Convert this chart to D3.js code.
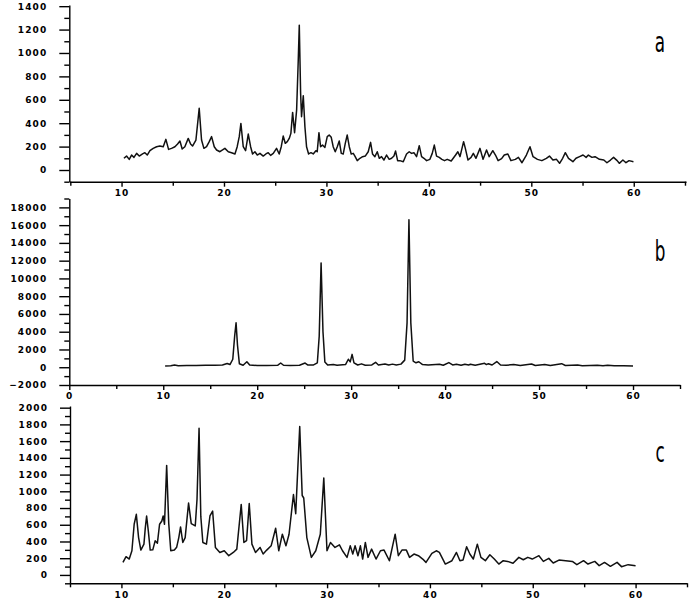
<!DOCTYPE html>
<html>
<head>
<meta charset="utf-8">
<script src="https://cdn.jsdelivr.net/npm/d3@7"></script>
<style>
  body { margin: 0; background: #fff; }
  .tick text { font-family: "DejaVu Sans"; font-weight: bold; font-size: 9px; letter-spacing: 1.1px; fill: #000; }
  .domain, .tick line { stroke: #000; stroke-width: 1.4; }
</style>
</head>
<body>
<div id="chart"></div>
<script>
// diffraction patterns, [2theta, intensity]
const xrdA = [
  [10.23,100],[10.49,119],[10.75,91],[10.98,128],[11.21,108],[11.47,142],[11.73,119],[12.05,137],
  [12.28,148],[12.51,128],[12.77,165],[13.09,185],[13.42,199],[13.74,205],[14.07,199],[14.33,262],
  [14.59,176],[14.88,185],[15.21,199],[15.47,222],[15.70,248],[15.92,179],[16.18,199],[16.51,270],
  [16.74,222],[16.93,205],[17.26,256],[17.58,527],[17.81,256],[18.04,185],[18.30,199],[18.56,242],
  [18.79,285],[19.05,199],[19.28,171],[19.60,156],[19.86,171],[20.09,185],[20.42,156],[20.74,148],
  [21.07,137],[21.29,199],[21.49,285],[21.65,398],[21.88,199],[22.11,165],[22.37,307],[22.60,199],
  [22.79,137],[23.02,156],[23.25,128],[23.51,142],[23.83,119],[24.09,137],[24.32,148],[24.55,125],
  [24.81,142],[25.13,185],[25.39,137],[25.59,199],[25.78,290],[25.98,228],[26.18,242],[26.37,270],
  [26.53,313],[26.70,492],[26.89,319],[27.09,512],[27.25,939],[27.35,1238],[27.48,655],[27.57,455],
  [27.74,635],[27.90,370],[28.06,199],[28.26,137],[28.49,148],[28.71,137],[28.97,165],[29.10,156],
  [29.27,319],[29.43,199],[29.62,213],[29.85,193],[30.08,285],[30.27,299],[30.47,279],[30.66,199],
  [30.86,156],[31.06,199],[31.25,248],[31.45,142],[31.64,137],[31.84,228],[32.03,299],[32.23,199],
  [32.42,137],[32.62,142],[32.78,119],[33.01,80],[33.27,100],[33.53,114],[33.79,119],[34.08,156],
  [34.31,236],[34.50,137],[34.73,114],[34.96,156],[35.16,100],[35.38,114],[35.61,85],[35.87,128],
  [36.13,91],[36.36,100],[36.59,119],[36.75,162],[36.95,80],[37.17,80],[37.50,71],[37.82,137],
  [38.08,156],[38.31,142],[38.54,148],[38.80,114],[39.06,208],[39.29,114],[39.52,100],[39.78,80],
  [40.10,91],[40.33,142],[40.53,213],[40.75,119],[41.01,108],[41.27,91],[41.53,80],[41.79,91],
  [42.18,77],[42.61,128],[42.83,156],[43.04,114],[43.39,242],[43.56,185],[43.82,85],[44.12,108],
  [44.34,142],[44.60,100],[44.99,185],[45.29,91],[45.63,171],[45.89,114],[46.24,165],[46.50,128],
  [46.76,80],[47.10,97],[47.36,128],[47.71,137],[48.01,80],[48.44,91],[48.74,108],[49.09,62],
  [49.52,128],[49.87,199],[50.17,114],[50.60,91],[51.03,80],[51.47,100],[51.77,119],[52.11,85],
  [52.46,91],[52.76,57],[53.06,100],[53.32,148],[53.63,100],[54.06,71],[54.36,100],[54.71,114],
  [55.05,128],[55.35,108],[55.57,128],[55.92,108],[56.22,114],[56.65,91],[57.08,85],[57.38,62],
  [57.73,85],[58.03,108],[58.38,80],[58.59,57],[58.94,85],[59.24,62],[59.54,80],[59.97,71]
];

const xrdB = [
  [10.2,150],[10.8,180],[11.2,260],[11.6,170],[12.5,200],[13.5,190],[14.5,210],[15.5,220],[16.3,250],
  [16.8,420],[17.1,300],[17.4,900],[17.6,3500],[17.75,5000],[17.9,2500],[18.1,400],[18.5,220],
  [18.9,620],[19.2,250],[20.0,200],[21.0,190],[22.2,230],[22.5,480],[22.8,220],[23.5,200],[24.5,220],
  [25.1,470],[25.4,240],[26.0,260],[26.4,500],[26.6,3500],[26.8,11750],[27.0,4000],[27.2,600],
  [27.5,250],[28.1,320],[28.5,220],[29.4,300],[29.7,900],[29.9,600],[30.1,1450],[30.3,500],[30.7,250],
  [31.1,380],[31.5,230],[32.2,260],[32.6,560],[32.9,260],[33.6,370],[34.0,250],[34.4,350],[34.8,260],
  [35.3,350],[35.7,800],[35.95,5000],[36.15,16600],[36.35,5000],[36.6,700],[36.9,500],[37.2,620],
  [37.6,300],[38.2,250],[39.4,330],[39.8,220],[40.4,520],[40.8,260],[41.2,330],[41.7,220],[42.1,330],
  [42.5,250],[42.7,330],[43.2,220],[44.2,440],[44.4,300],[44.6,400],[45.0,250],[45.5,640],[45.9,250],
  [46.5,220],[47.3,300],[48.0,200],[49.2,370],[49.6,200],[50.6,300],[51.2,200],[52.4,400],[52.8,200],
  [54.1,250],[54.6,180],[55.4,200],[56.2,230],[56.8,170],[57.3,230],[58.0,160],[59.0,170],[60.0,140]
];

const xrdC = [
  [10.15,150],[10.45,218],[10.76,190],[11.02,289],[11.24,606],[11.45,725],[11.67,447],[11.89,297],
  [12.19,368],[12.32,560],[12.45,705],[12.62,520],[12.80,297],[13.05,300],[13.28,408],[13.50,380],
  [13.71,606],[13.93,645],[14.06,705],[14.19,606],[14.40,1310],[14.60,620],[14.80,289],[15.15,297],
  [15.37,330],[15.58,447],[15.75,574],[15.97,388],[16.20,447],[16.53,860],[16.79,614],[17.18,586],
  [17.35,900],[17.55,1754],[17.72,700],[17.92,388],[18.27,368],[18.61,705],[18.87,764],[19.14,329],
  [19.57,269],[20.00,289],[20.44,230],[20.88,269],[21.22,309],[21.65,843],[21.91,388],[22.17,410],
  [22.43,855],[22.69,368],[23.04,269],[23.48,329],[23.78,250],[24.13,297],[24.56,348],[25.00,558],
  [25.30,289],[25.65,487],[26.00,348],[26.30,487],[26.73,962],[26.95,733],[27.34,1774],[27.58,950],
  [27.73,920],[28.03,447],[28.47,210],[28.90,289],[29.34,487],[29.68,1160],[29.99,289],[30.33,388],
  [30.77,329],[31.20,360],[31.50,289],[31.94,210],[32.25,348],[32.50,250],[32.72,348],[33.00,230],
  [33.24,348],[33.46,190],[33.72,388],[33.98,210],[34.33,309],[34.76,190],[35.19,289],[35.54,297],
  [36.06,170],[36.62,487],[36.93,230],[37.28,297],[37.71,297],[38.02,210],[38.45,250],[38.88,230],
  [39.30,190],[39.62,150],[40.19,257],[40.62,289],[40.92,270],[41.50,130],[42.14,170],[42.58,269],
  [42.92,170],[43.22,178],[43.57,337],[43.88,250],[44.22,190],[44.61,368],[44.96,210],[45.39,170],
  [45.83,241],[46.26,190],[46.70,130],[47.13,170],[47.56,162],[48.08,139],[48.65,210],[49.08,182],
  [49.52,210],[49.95,190],[50.60,230],[51.03,162],[51.56,198],[51.99,143],[52.55,178],[53.20,170],
  [53.85,162],[54.29,123],[54.94,170],[55.37,130],[56.03,162],[56.46,111],[56.98,150],[57.55,103],
  [58.20,150],[58.63,99],[59.28,123],[60.00,111]
];

// axis settings per panel
const panelNames = ["a", "b", "c"];
const xDomains = [[4.9, 65.1], [0, 65], [5, 65]];
const yDomains = [[-100, 1410], [-2000, 19000], [-100, 2020]];
const yMajorStep = [200, 2000, 200];
const series = [xrdA, xrdB, xrdC];

const xRanges = [[69.3, 686], [69.3, 680], [70, 687]];
const yRanges = [[181.7, 5], [385, 198.5], [583.3, 406]];
const labelPos = [[660, 52], [660, 261], [660, 462]];

const svg = d3.select("#chart").append("svg")
  .attr("width", 694)
  .attr("height", 600);

function ticksBetween(domain, step) {
  const out = [];
  const start = Math.ceil(domain[0] / step) * step;
  for (let v = start; v <= domain[1] + 1e-9; v += step) out.push(+v.toFixed(6));
  return out;
}

series.forEach((data, i) => {
  const x = d3.scaleLinear().domain(xDomains[i]).range(xRanges[i]);
  const y = d3.scaleLinear().domain(yDomains[i]).range(yRanges[i]);
  const g = svg.append("g");

  const xMajor = ticksBetween(xDomains[i], 10);
  const xMinor = ticksBetween(xDomains[i], 5).filter(v => v % 10 !== 0);
  const yMajor = ticksBetween(yDomains[i], yMajorStep[i]);
  const yMinor = ticksBetween(yDomains[i], yMajorStep[i] / 2).filter(v => v % yMajorStep[i] !== 0);

  const base = yRanges[i][0];
  const left = xRanges[i][0];

  // minor ticks first
  g.append("g")
    .attr("transform", `translate(0,${base})`)
    .call(d3.axisBottom(x).tickValues(xMinor).tickSize(4).tickFormat(""))
    .select(".domain").remove();
  g.append("g")
    .attr("transform", `translate(${left},0)`)
    .call(d3.axisLeft(y).tickValues(yMinor).tickSize(5).tickFormat(""))
    .select(".domain").remove();

  g.append("g")
    .attr("transform", `translate(0,${base})`)
    .call(d3.axisBottom(x).tickValues(xMajor).tickSize(5).tickSizeOuter(0).tickPadding(3).tickFormat(d3.format("d")));
  g.append("g")
    .attr("transform", `translate(${left},0)`)
    .call(d3.axisLeft(y).tickValues(yMajor).tickSize(10).tickSizeOuter(0).tickPadding(12).tickFormat(d3.format("d")));

  const line = d3.line()
    .x(d => x(d[0]))
    .y(d => y(d[1]));

  g.append("path")
    .datum(data)
    .attr("fill", "none")
    .attr("stroke", "#111")
    .attr("stroke-width", 1.5)
    .attr("stroke-linejoin", "round")
    .attr("d", line);

  g.append("text")
    .attr("transform", `translate(${labelPos[i][0]},${labelPos[i][1]}) scale(0.6,1)`)
    .attr("text-anchor", "middle")
    .style("font-family", "DejaVu Sans")
    .style("font-size", "28px")
    .text(panelNames[i]);
});
</script>
</body>
</html>
